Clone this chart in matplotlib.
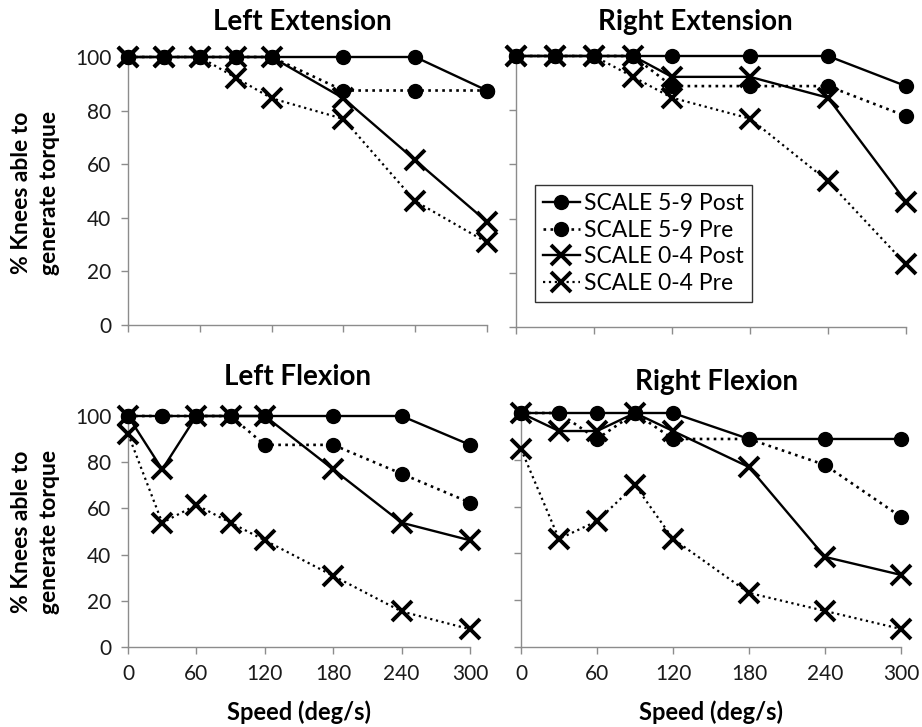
import matplotlib
matplotlib.use("Agg")
import matplotlib.pyplot as plt
from matplotlib.lines import Line2D

plt.rcParams['font.family'] = ['Lato', 'DejaVu Sans']

speeds = [0, 30, 60, 90, 120, 180, 240, 300]
x_ticks = [0, 60, 120, 180, 240, 300]
y_ticks = [0, 20, 40, 60, 80, 100]

series_names = ["SCALE 5-9 Post", "SCALE 5-9 Pre", "SCALE 0-4 Post", "SCALE 0-4 Pre"]

left_ext_59_post = [100, 100, 100, 100, 100, 100, 100, 87.5]
left_ext_59_pre = [100, 100, 100, 100, 100, 87.5, 87.5, 87.5]
left_ext_04_post = [100, 100, 100, 100, 100, 84.6, 61.5, 38.5]
left_ext_04_pre = [100, 100, 100, 92.3, 84.6, 76.9, 46.2, 30.8]

right_ext_59_post = [100, 100, 100, 100, 100, 100, 100, 88.9]
right_ext_59_pre = [100, 100, 100, 100, 88.9, 88.9, 88.9, 77.8]
right_ext_04_post = [100, 100, 100, 100, 92.3, 92.3, 84.6, 46.2]
right_ext_04_pre = [100, 100, 100, 92.3, 84.6, 76.9, 53.8, 23.1]

left_flex_59_post = [100, 100, 100, 100, 100, 100, 100, 87.5]
left_flex_59_pre = [100, 100, 100, 100, 87.5, 87.5, 75.0, 62.5]
left_flex_04_post = [100, 76.9, 100, 100, 100, 76.9, 53.8, 46.2]
left_flex_04_pre = [92.3, 53.8, 61.5, 53.8, 46.2, 30.8, 15.4, 7.7]

right_flex_59_post = [100, 100, 100, 100, 100, 88.9, 88.9, 88.9]
right_flex_59_pre = [100, 100, 88.9, 100, 88.9, 88.9, 77.8, 55.6]
right_flex_04_post = [100, 92.3, 92.3, 100, 92.3, 76.9, 38.5, 30.8]
right_flex_04_pre = [84.6, 46.2, 53.8, 69.2, 46.2, 23.1, 15.4, 7.7]

panels = [
    ("Left Extension", [left_ext_59_post, left_ext_59_pre, left_ext_04_post, left_ext_04_pre]),
    ("Right Extension", [right_ext_59_post, right_ext_59_pre, right_ext_04_post, right_ext_04_pre]),
    ("Left Flexion", [left_flex_59_post, left_flex_59_pre, left_flex_04_post, left_flex_04_pre]),
    ("Right Flexion", [right_flex_59_post, right_flex_59_pre, right_flex_04_post, right_flex_04_pre]),
]

W, H = 922, 727
fig = plt.figure(figsize=(W / 100, H / 100), dpi=100)

# axes boxes in pixel coords: (x0, x300, y100, y0)
boxes = [(128, 487, 57, 325), (516, 906, 56, 327), (128, 470, 416, 647), (521, 901, 413, 647)]
title_pos = [(302, 22), (695, 22), (297, 377), (716, 382)]
show_xlabels = [False, False, True, True]
show_ylabels = [True, False, True, False]

styles = [
    dict(linestyle='-', marker='o', markersize=10, linewidth=1.7),
    dict(linestyle=':', marker='o', markersize=10, linewidth=1.9),
    dict(linestyle='-', marker='x', markersize=14, markeredgewidth=2.8, linewidth=1.7),
    dict(linestyle=':', marker='x', markersize=14, markeredgewidth=2.8, linewidth=1.6),
]

spine_col = '#8c8c8c'
axes = []
for k, ((x0, x1, yt, yb), (title, data), (tx, ty)) in enumerate(zip(boxes, panels, title_pos)):
    ax = fig.add_axes([x0 / W, 1 - yb / H, (x1 - x0) / W, (yb - yt) / H])
    axes.append(ax)
    order = [3, 2, 1, 0]
    for i in order:
        ax.plot(speeds, data[i], color='black', clip_on=False, zorder=3 + (4 - i),
                **styles[i])
    ax.set_xlim(0, 300)
    ax.set_ylim(0, 100)
    ax.set_xticks(x_ticks)
    ax.set_yticks(y_ticks)
    for s in ['top', 'right']:
        ax.spines[s].set_visible(False)
    for s in ['left', 'bottom']:
        ax.spines[s].set_color(spine_col)
        ax.spines[s].set_linewidth(1.0)
    ax.tick_params(direction='out', length=5, width=1.0, color=spine_col,
                   labelsize=15, labelcolor='#1a1a1a', pad=7)
    ax.tick_params(axis='x', labelbottom=show_xlabels[k])
    ax.tick_params(axis='y', labelleft=show_ylabels[k])
    fig.text(tx / W, 1 - ty / H, title, ha='center', va='center',
             fontsize=20, fontweight='bold')

for yc in [193, 532]:
    fig.text(22 / W, 1 - yc / H, "% Knees able to", rotation=90, ha='center',
             va='center', fontsize=16.5, fontweight='bold')
    fig.text(50 / W, 1 - yc / H, "generate torque", rotation=90, ha='center',
             va='center', fontsize=16.5, fontweight='bold')

for xc in [299, 711]:
    fig.text(xc / W, 1 - 712 / H, "Speed (deg/s)", ha='center', va='center',
             fontsize=17, fontweight='bold')

handles = [Line2D([], [], color='black', **styles[i]) for i in range(4)]
leg = axes[1].legend(handles, series_names, loc='upper left',
                     bbox_to_anchor=((535 - 516) / (906 - 516), (327 - 185) / (327 - 56)),
                     fontsize=16.5, frameon=True, fancybox=False, handlelength=1.6,
                     handletextpad=0.2, borderpad=0.35, labelspacing=0.25,
                     borderaxespad=0)
leg.get_frame().set_edgecolor('black')
leg.get_frame().set_linewidth(1.0)

fig.savefig("out.png", dpi=100)
